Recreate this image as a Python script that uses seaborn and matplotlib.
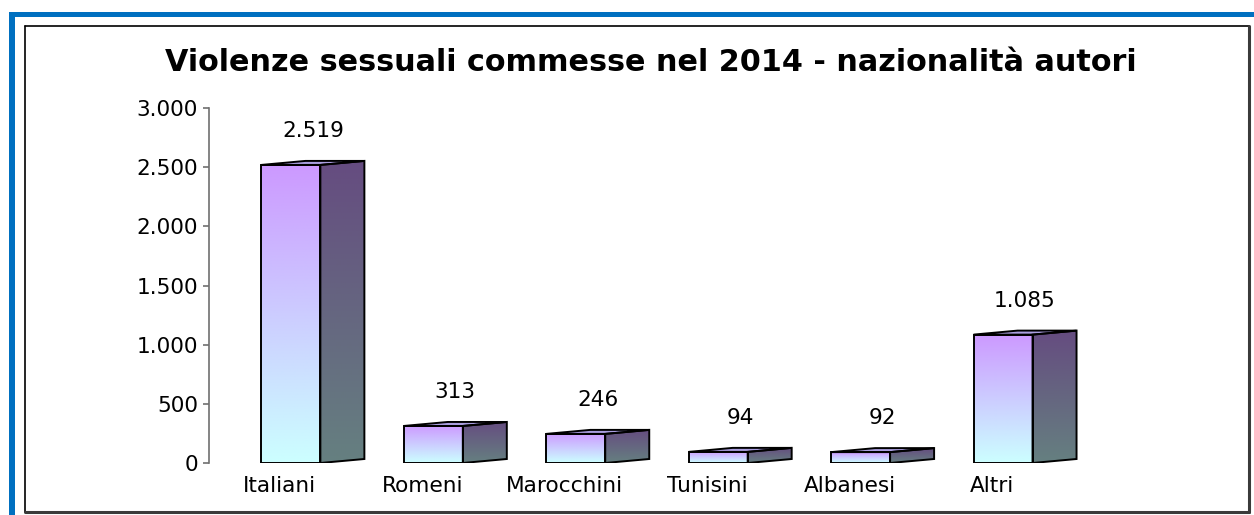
import numpy as np
import pandas as pd
import matplotlib
matplotlib.use("Agg")
import matplotlib.pyplot as plt
import seaborn as sns
from matplotlib.patches import Polygon, Rectangle
from matplotlib.lines import Line2D
from matplotlib.ticker import FuncFormatter, FixedLocator
from matplotlib.transforms import ScaledTranslation
from matplotlib.colors import to_rgb

# ---- data ----
categories = ["Italiani", "Romeni", "Marocchini", "Tunisini", "Albanesi", "Altri"]
values = [2519, 313, 246, 94, 92, 1085]
y_ticks = [0, 500, 1000, 1500, 2000, 2500, 3000]
title = "Violenze sessuali commesse nel 2014 - nazionalità autori"

W, H, DPI = 1254, 515, 100
FS = 15.6
LW = 1.4

sns.set_theme(style="white")
plt.rcParams['font.family'] = ['DejaVu Sans']
plt.rcParams['text.color'] = 'black'
plt.rcParams['xtick.labelcolor'] = 'black'
plt.rcParams['ytick.labelcolor'] = 'black'

fig = plt.figure(figsize=(W / DPI, H / DPI), dpi=DPI)
fig.patch.set_facecolor('white')

# axes placed in pixel terms
ax_left, ax_right, ax_top, ax_bottom = 209, 1117, 108, 463
ax = fig.add_axes([ax_left / W, 1 - ax_bottom / H,
                   (ax_right - ax_left) / W, (ax_bottom - ax_top) / H])
ax.set_facecolor('none')

df = pd.DataFrame({"cat": categories, "val": values})
sns.barplot(data=df, x="cat", y="val", ax=ax, width=0.414, color="white",
            edgecolor="black", linewidth=LW, saturation=1)

XLIM = (-0.575, 5.8)
YLIM = (0, 3000)
ax.set_xlim(*XLIM)
ax.set_ylim(*YLIM)

# depth of the 3D effect in pixels -> data units
depth_px, rise_px = 44, 4
ppx = (ax_right - ax_left) / (XLIM[1] - XLIM[0])
ppy = (ax_bottom - ax_top) / (YLIM[1] - YLIM[0])
dx = depth_px / ppx
dy = rise_px / ppy

front_top, front_bot = np.array(to_rgb('#CC99FF')), np.array(to_rgb('#CCFFFF'))
side_top, side_bot = np.array(to_rgb('#654C80')), np.array(to_rgb('#668080'))
top_color = '#AA9EE0'

def grad(c1, c2, n=128):
    t = np.linspace(0, 1, n)[:, None]
    return (c1 * (1 - t) + c2 * t)[:, None, :]

for p, v in zip(list(ax.patches), values):
    x0, w, h = p.get_x(), p.get_width(), p.get_height()
    p.set_facecolor('none')
    p.set_zorder(6)
    # front gradient
    ax.imshow(grad(front_top, front_bot), extent=(x0, x0 + w, 0, h),
              aspect='auto', origin='upper', zorder=4, interpolation='bilinear')
    # side face
    side = Polygon([(x0 + w, 0), (x0 + w + dx, dy), (x0 + w + dx, h + dy), (x0 + w, h)],
                   closed=True, facecolor='none', edgecolor='black', linewidth=LW,
                   joinstyle='miter', zorder=6)
    ax.add_patch(side)
    im = ax.imshow(grad(side_top, side_bot), extent=(x0 + w, x0 + w + dx, 0, h + dy),
                   aspect='auto', origin='upper', zorder=4, interpolation='bilinear')
    im.set_clip_path(side)
    # top face
    top = Polygon([(x0, h), (x0 + w, h), (x0 + w + dx, h + dy), (x0 + dx, h + dy)],
                  closed=True, facecolor=top_color, edgecolor='black', linewidth=LW,
                  zorder=5)
    ax.add_patch(top)
    # value label
    ax.annotate(f"{v:,}".replace(",", "."), xy=(x0 + w / 2 + dx / 2, h),
                xytext=(0, 34 * 0.72), textcoords='offset points',
                ha='center', va='center', fontsize=FS, color='black', zorder=7)

ax.set_xlim(*XLIM)
ax.set_ylim(*YLIM)

# axes styling
for s in ['top', 'right', 'bottom']:
    ax.spines[s].set_visible(False)
ax.spines['left'].set_color('#707070')
ax.spines['left'].set_linewidth(1.2)
ax.yaxis.set_major_locator(FixedLocator(y_ticks))
ax.yaxis.set_major_formatter(FuncFormatter(lambda v, _: f"{int(v):,}".replace(",", ".")))
ax.tick_params(axis='y', left=True, length=4, width=1.2, color='#707070',
               direction='out', pad=4, labelsize=FS)
ax.tick_params(axis='x', bottom=False, length=0, pad=9, labelsize=FS)
ax.set_xlabel('')
ax.set_ylabel('')
offset = ScaledTranslation(-11 / DPI, 0, fig.dpi_scale_trans)
for lab in ax.get_xticklabels():
    lab.set_transform(lab.get_transform() + offset)

# title
fig.text(651 / W, 1 - 71 / H, title, ha='center', va='baseline',
         fontsize=21.8, fontweight='bold', color='black')

# frame decorations
blue = '#0070C0'
fig.add_artist(Rectangle((9 / W, 1 - 17 / H), (W - 9) / W, 5 / H,
                         transform=fig.transFigure, facecolor=blue, edgecolor='none'))
fig.add_artist(Rectangle((9 / W, 0), 6 / W, (H - 12) / H,
                         transform=fig.transFigure, facecolor=blue, edgecolor='none'))
fig.add_artist(Line2D([25 / W, 1249 / W], [1 - 26 / H, 1 - 26 / H],
                      transform=fig.transFigure, color='black', linewidth=1.2))
fig.add_artist(Line2D([25 / W, 25 / W], [1 - 26 / H, 1 - 512 / H],
                      transform=fig.transFigure, color='black', linewidth=1.2))
fig.add_artist(Line2D([1249 / W, 1249 / W], [1 - 26 / H, 1 - 512 / H],
                      transform=fig.transFigure, color='#3A3A3A', linewidth=2.2))
fig.add_artist(Line2D([25 / W, 1249 / W], [1 - 512 / H, 1 - 512 / H],
                      transform=fig.transFigure, color='#3A3A3A', linewidth=2.2))

fig.savefig("out.png", dpi=DPI, facecolor='white')
